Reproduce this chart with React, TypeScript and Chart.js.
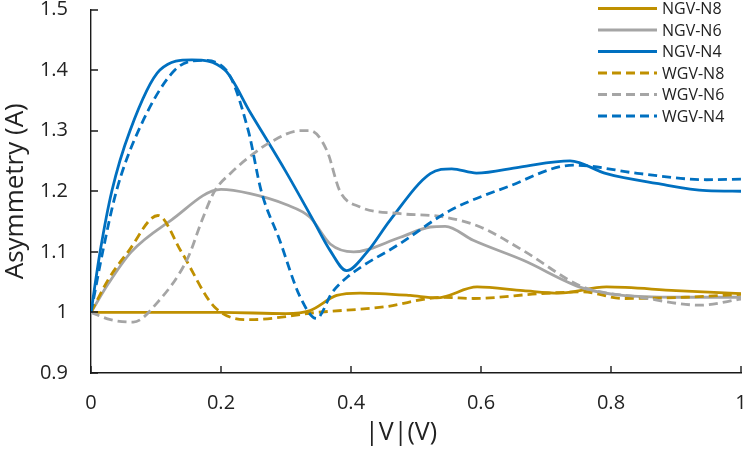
import { useEffect, useRef } from "react"
import { Chart, registerables } from "chart.js"

Chart.register(...registerables)

// valores
const ngvN8X = [0, 0.1, 0.2, 0.3, 0.337, 0.378, 0.414, 0.491, 0.532, 0.594, 0.665, 0.72, 0.793, 0.9, 1]
const ngvN8Y = [1, 1, 1, 0.998, 1.003, 1.028, 1.032, 1.028, 1.024, 1.042, 1.036, 1.032, 1.042, 1.036, 1.031]

const ngvN6X = [0, 0.027, 0.062, 0.123, 0.2, 0.245, 0.3, 0.337, 0.368, 0.404, 0.476, 0.522, 0.545, 0.588, 0.665, 0.757, 0.818, 0.9, 1]
const ngvN6Y = [1, 1.048, 1.1, 1.152, 1.203, 1.196, 1.178, 1.157, 1.113, 1.1, 1.124, 1.141, 1.142, 1.119, 1.086, 1.04, 1.028, 1.025, 1.025]

const ngvN4X = [0, 0.014, 0.032, 0.06, 0.106, 0.155, 0.206, 0.245, 0.3, 0.342, 0.368, 0.393, 0.425, 0.46, 0.522, 0.555, 0.593, 0.66, 0.737, 0.793, 0.87, 0.947, 1]
const ngvN4Y = [1, 1.1, 1.2, 1.3, 1.4, 1.417, 1.4, 1.33, 1.232, 1.152, 1.102, 1.069, 1.1, 1.152, 1.229, 1.237, 1.23, 1.24, 1.25, 1.229, 1.213, 1.201, 1.2]

const wgvN8X = [0, 0.027, 0.057, 0.103, 0.139, 0.19, 0.245, 0.348, 0.45, 0.542, 0.588, 0.691, 0.757, 0.818, 0.914, 1]
const wgvN8Y = [1, 1.055, 1.1, 1.16, 1.1, 1.009, 0.988, 1.0, 1.009, 1.025, 1.023, 1.031, 1.034, 1.023, 1.025, 1.03]

const wgvN6X = [0, 0.03, 0.065, 0.101, 0.149, 0.17, 0.19, 0.214, 0.25, 0.276, 0.322, 0.337, 0.363, 0.383, 0.414, 0.476, 0.54, 0.599, 0.665, 0.757, 0.845, 0.937, 1]
const wgvN6Y = [1, 0.988, 0.984, 1.015, 1.09, 1.15, 1.2, 1.229, 1.262, 1.281, 1.3, 1.3, 1.267, 1.2, 1.174, 1.163, 1.158, 1.141, 1.102, 1.042, 1.025, 1.012, 1.022]

const wgvN4X = [0, 0.018, 0.039, 0.073, 0.129, 0.17, 0.208, 0.242, 0.262, 0.29, 0.322, 0.347, 0.371, 0.394, 0.476, 0.552, 0.64, 0.742, 0.845, 0.947, 1]
const wgvN4Y = [1, 1.1, 1.2, 1.3, 1.4, 1.416, 1.4, 1.3, 1.2, 1.12, 1.025, 0.99, 1.033, 1.058, 1.114, 1.168, 1.207, 1.243, 1.229, 1.219, 1.22]

const xTicks = [0, 0.2, 0.4, 0.6, 0.8, 1]
const yTicks = [0.9, 1, 1.1, 1.2, 1.3, 1.4, 1.5]

const GOLD = "#BF9000"
const GRAY = "#A5A5A5"
const BLUE = "#0070C0"
const DASH = [9, 5]
const AXIS = "#1a1a1a"
const TEXT = "#222"

const toPoints = (xs: number[], ys: number[]) => xs.map((x, i) => ({ x, y: ys[i] }))

const FONT = "'Open Sans', 'Noto Sans', sans-serif"

// marcas de los ejes hacia dentro + título del eje x (algo desplazado a la izquierda, como en el original)
const axisExtrasPlugin = {
  id: "axisExtras",
  afterDraw(chart: any) {
    const { ctx, chartArea, scales } = chart
    const len = 7
    ctx.save()
    ctx.strokeStyle = AXIS
    ctx.lineWidth = 1.4
    ctx.beginPath()
    xTicks.forEach((v) => {
      const px = Math.round(scales.x.getPixelForValue(v))
      ctx.moveTo(px, chartArea.bottom)
      ctx.lineTo(px, chartArea.bottom - len)
    })
    yTicks.forEach((v) => {
      const py = Math.round(scales.y.getPixelForValue(v))
      ctx.moveTo(chartArea.left, py)
      ctx.lineTo(chartArea.left + len, py)
    })
    ctx.stroke()

    ctx.fillStyle = TEXT
    ctx.font = `25px ${FONT}`
    ctx.textAlign = "center"
    ctx.textBaseline = "middle"
    ctx.fillText("|V|(V)", scales.x.getPixelForValue(0.477), 433)
    ctx.restore()
  },
}

// leyenda dibujada arriba a la derecha, dentro del área del gráfico
const legendPlugin = {
  id: "cornerLegend",
  afterDraw(chart: any) {
    const ctx = chart.ctx
    const x0 = 598
    const x1 = 657
    const rowH = 21.5
    ctx.save()
    ctx.font = `16px ${FONT}`
    ctx.textBaseline = "middle"
    ctx.textAlign = "left"
    chart.data.datasets.forEach((ds: any, i: number) => {
      const y = 8.5 + i * rowH
      ctx.strokeStyle = ds.borderColor
      ctx.lineWidth = ds.borderWidth
      ctx.setLineDash(ds.borderDash || [])
      ctx.beginPath()
      ctx.moveTo(x0, y)
      ctx.lineTo(x1, y)
      ctx.stroke()
      ctx.setLineDash([])
      ctx.fillStyle = TEXT
      ctx.fillText(ds.label, x1 + 5, y + 1)
    })
    ctx.restore()
  },
}

export default function App() {
  const chartRef = useRef<HTMLCanvasElement>(null)
  const chartInstance = useRef<Chart | null>(null)

  useEffect(() => {
    if (!chartRef.current) return
    if (chartInstance.current) chartInstance.current.destroy()
    const ctx = chartRef.current.getContext("2d")
    if (!ctx) return

    const series = [
      { label: "NGV-N8", xs: ngvN8X, ys: ngvN8Y, color: GOLD, dash: [] as number[] },
      { label: "NGV-N6", xs: ngvN6X, ys: ngvN6Y, color: GRAY, dash: [] as number[] },
      { label: "NGV-N4", xs: ngvN4X, ys: ngvN4Y, color: BLUE, dash: [] as number[] },
      { label: "WGV-N8", xs: wgvN8X, ys: wgvN8Y, color: GOLD, dash: DASH },
      { label: "WGV-N6", xs: wgvN6X, ys: wgvN6Y, color: GRAY, dash: DASH },
      { label: "WGV-N4", xs: wgvN4X, ys: wgvN4Y, color: BLUE, dash: DASH },
    ]

    chartInstance.current = new Chart(ctx, {
      type: "line",
      data: {
        datasets: series.map((s, i) => ({
          label: s.label,
          data: toPoints(s.xs, s.ys),
          borderColor: s.color,
          backgroundColor: s.color,
          borderWidth: 2.8,
          borderDash: s.dash,
          pointRadius: 0,
          cubicInterpolationMode: "monotone" as const,
          fill: false,
          order: series.length - i,
        })),
      },
      options: {
        responsive: false,
        animation: false,
        layout: { padding: { top: 9.5, right: 8, left: 0, bottom: 0 } },
        plugins: {
          legend: { display: false },
          tooltip: { enabled: false },
        },
        scales: {
          x: {
            type: "linear",
            min: 0,
            max: 1,
            afterBuildTicks: (scale: any) => {
              scale.ticks = xTicks.map((v) => ({ value: v }))
            },
            afterFit: (scale: any) => {
              scale.height = 77
              scale.paddingLeft = 0
              scale.paddingRight = 0
            },
            grid: { display: false, drawTicks: false, tickLength: 0 },
            border: { display: true, color: AXIS, width: 1.4 },
            ticks: {
              padding: 18,
              color: TEXT,
              font: { family: FONT, size: 20 },
              callback: (v: any) => String(v),
            },
            title: { display: false },
          },
          y: {
            type: "linear",
            min: 0.9,
            max: 1.5,
            afterBuildTicks: (scale: any) => {
              scale.ticks = yTicks.map((v) => ({ value: v }))
            },
            afterFit: (scale: any) => {
              scale.width = 91
              scale.paddingTop = 0
              scale.paddingBottom = 0
            },
            grid: { display: false, drawTicks: false, tickLength: 0 },
            border: { display: true, color: AXIS, width: 1.4 },
            ticks: {
              padding: 23,
              color: TEXT,
              font: { family: FONT, size: 20 },
              callback: (v: any) => String(Math.round(v * 10) / 10),
            },
            title: {
              display: true,
              text: "Asymmetry (A)",
              color: TEXT,
              font: { family: FONT, size: 26 },
              padding: { top: 0, bottom: 0 },
            },
          },
        },
      },
      plugins: [axisExtrasPlugin, legendPlugin],
    })

    return () => {
      if (chartInstance.current) {
        chartInstance.current.destroy()
        chartInstance.current = null
      }
    }
  }, [])

  return (
    <div style={{ position: "absolute", left: 0, top: 0, width: 749, height: 450 }}>
      <canvas ref={chartRef} width={749} height={450} />
    </div>
  )
}
